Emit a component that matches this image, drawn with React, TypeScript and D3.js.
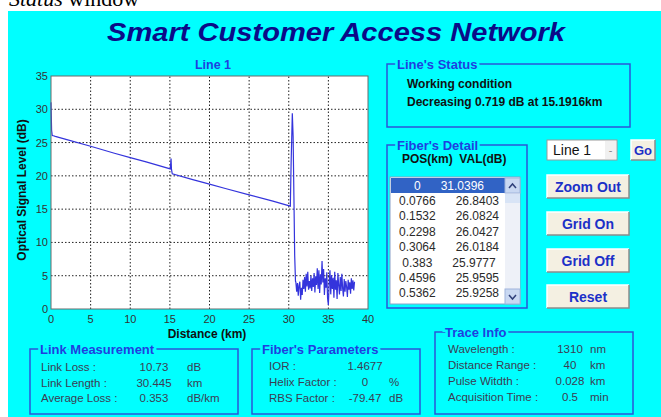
import React from 'react';
import * as d3 from 'd3';

// trace (km, dB)
const traceKm = [0, 0.0766, 0.1532, 0.2298, 0.3064, 0.383, 0.4596, 0.5362, 2, 5, 8, 10, 12, 15.05, 15.15, 15.2, 15.3, 18, 20, 22, 25, 28, 30.2, 30.3, 30.45, 30.55, 30.65, 30.75, 30.85];
const traceDb = [31.04, 26.84, 26.08, 26.04, 26.02, 25.98, 25.96, 25.93, 25.45, 24.45, 23.4, 22.75, 22.1, 21.05, 22.6, 21.0, 20.3, 19.4, 18.75, 18.1, 17.15, 16.2, 15.45, 22.0, 29.4, 26.0, 17.0, 8.0, 4.2];

// noise floor after the end of the fibre
const noiseStartKm = 30.9;
const noiseStepKm = 0.1;
const noiseDb = [4.0, 2.6, 3.9, 2.0, 3.5, 4.1, 1.4, 3.2, 2.1, 4.4, 3.0, 4.8, 2.6, 5.3, 3.4, 5.6, 2.9, 4.2, 3.1, 5.0,
  2.7, 4.6, 3.3, 5.4, 2.5, 4.9, 3.6, 6.1, 3.0, 5.8, 2.4, 5.2, 3.7, 7.2, 4.0, 6.0, 2.1, 4.6, 3.2, 5.5,
  1.6, 0.6, 3.8, 5.8, 2.2, 5.1, 3.0, 4.7, 1.7, 5.6, 2.9, 4.3, 1.5, 5.4, 3.6, 2.2, 4.8, 2.7, 5.3, 3.1,
  1.9, 4.5, 2.6, 4.2, 3.3, 1.8, 4.4, 2.9, 4.0, 2.3, 4.6, 3.0, 4.3, 2.8, 4.1];

const xTicks = [0, 5, 10, 15, 20, 25, 30, 35, 40];
const yTicks = [0, 5, 10, 15, 20, 25, 30, 35];

const detailPos = ['0', '0.0766', '0.1532', '0.2298', '0.3064', '0.383', '0.4596', '0.5362', '0.6128'];
const detailVal = ['31.0396', '26.8403', '26.0824', '26.0427', '26.0184', '25.9777', '25.9595', '25.9258', '25.8951'];

const buttonLabels = ['Zoom Out', 'Grid On', 'Grid Off', 'Reset'];

const linkLabels = ['Link Loss :', 'Link Length :', 'Average Loss :'];
const linkValues = ['10.73', '30.445', '0.353'];
const linkUnits = ['dB', 'km', 'dB/km'];

const paramLabels = ['IOR :', 'Helix Factor :', 'RBS Factor :'];
const paramValues = ['1.4677', '0', '-79.47'];
const paramUnits = ['', '%', 'dB'];

const traceLabels = ['Wavelength :', 'Distance Range :', 'Pulse Witdth :', 'Acquisition Time :'];
const traceValues = ['1310', '40', '0.028', '0.5'];
const traceUnits = ['nm', 'km', 'km', 'min'];

const SANS = '"Liberation Sans", Arial, sans-serif';
const CYAN = '#00ffff';
const GROUP_BLUE = '#1f3fe0';
const LABEL_GREY = '#3c3c52';

function GroupBox({x, y, w, h, title}: {x: number, y: number, w: number, h: number, title: string}) {
  return (
    <g>
      <rect x={x} y={y} width={w} height={h} fill="none" stroke="#2b55d8" strokeWidth={1.5} />
      <text x={x + 10} y={y + 4.5} fontFamily={SANS} fontSize={13} fontWeight="bold" fill={GROUP_BLUE}
        stroke={CYAN} strokeWidth={5} paintOrder="stroke">{title}</text>
    </g>
  );
}

function Button({x, y, w, h, label, size = 14}: {x: number, y: number, w: number, h: number, label: string, size?: number}) {
  return (
    <g>
      <rect x={x} y={y} width={w} height={h} fill="#f4f0e2" />
      <path d={`M${x},${y + h} V${y} H${x + w}`} fill="none" stroke="#ffffff" strokeWidth={1.5} />
      <path d={`M${x},${y + h} H${x + w} V${y}`} fill="none" stroke="#8c8c8c" strokeWidth={1.5} />
      <text x={x + w / 2} y={y + h / 2 + size * 0.36} textAnchor="middle" fontFamily={SANS}
        fontSize={size} fontWeight="bold" fill="#1c30c8">{label}</text>
    </g>
  );
}

export default function App() {
  const x = d3.scaleLinear().domain([0, 40]).range([51, 368]);
  const y = d3.scaleLinear().domain([0, 35]).range([309, 76]);

  const points: [number, number][] = traceKm.map((k, i) => [k, traceDb[i]]);
  noiseDb.forEach((v, i) => points.push([noiseStartKm + i * noiseStepKm, v]));
  const line = d3.line<[number, number]>().x(d => x(d[0])).y(d => y(d[1]));

  const rowY = d3.scaleLinear().domain([0, 1]).range([185, 200.4]);
  const buttonTops = [175, 212, 249, 285];

  return (
    <div style={{position: 'absolute', left: 0, top: 0}}>
      <svg width={661} height={417} style={{display: 'block'}}>
        <rect width={661} height={417} fill="#ffffff" />
        <text x={9} y={6} fontFamily='"Liberation Serif", serif' fontSize={22} fill="#000">
          <tspan fontStyle="italic">Status</tspan> window
        </text>
        <rect x={8} y={11} width={653} height={406} fill={CYAN} />

        <text x={336} y={41} textAnchor="middle" fontFamily={SANS} fontSize={25} fontWeight="bold"
          fontStyle="italic" fill="#0b0b88" textLength={458} lengthAdjust="spacingAndGlyphs">
          Smart Customer Access Network
        </text>

        {/* plot */}
        <text x={213} y={69} textAnchor="middle" fontFamily={SANS} fontSize={12.5} fontWeight="bold" fill={GROUP_BLUE}>Line 1</text>
        <rect x={x(0)} y={y(35)} width={x(40) - x(0)} height={y(0) - y(35)} fill="#ffffff" />
        {xTicks.slice(1, -1).map(t => (
          <line key={'gx' + t} x1={x(t)} x2={x(t)} y1={y(0)} y2={y(35)} stroke="#222" strokeWidth={1} strokeDasharray="1.5 2" />
        ))}
        {yTicks.slice(1, -1).map(t => (
          <line key={'gy' + t} x1={x(0)} x2={x(40)} y1={y(t)} y2={y(t)} stroke="#222" strokeWidth={1} strokeDasharray="1.5 2" />
        ))}
        <path d={line(points) || ''} fill="none" stroke="#3434dc" strokeWidth={1.2} />
        <rect x={x(0)} y={y(35)} width={x(40) - x(0)} height={y(0) - y(35)} fill="none" stroke="#6a6a6a" strokeWidth={1} />
        {yTicks.map(t => (
          <text key={'ty' + t} x={x(0) - 3} y={y(t) + 4} textAnchor="end" fontFamily={SANS} fontSize={11} fill="#333">{t}</text>
        ))}
        {xTicks.map(t => (
          <text key={'tx' + t} x={x(t)} y={y(0) + 14} textAnchor="middle" fontFamily={SANS} fontSize={11} fill="#333">{t}</text>
        ))}
        <text x={207} y={338} textAnchor="middle" fontFamily={SANS} fontSize={12} fontWeight="bold" fill="#111">Distance (km)</text>
        <text transform="translate(26,190) rotate(-90)" textAnchor="middle" fontFamily={SANS} fontSize={12} fontWeight="bold" fill="#111">Optical Signal Level (dB)</text>

        {/* line status */}
        <GroupBox x={387} y={64} w={243} h={63} title="Line's Status" />
        <text x={407} y={88} fontFamily={SANS} fontSize={12} fontWeight="bold" fill="#111">Working condition</text>
        <text x={407} y={106} fontFamily={SANS} fontSize={12} fontWeight="bold" fill="#111">Decreasing 0.719 dB at 15.1916km</text>

        {/* fibre detail list */}
        <GroupBox x={387} y={145} w={140} h={163} title="Fiber's Detail" />
        <text x={402} y={163} fontFamily={SANS} fontSize={12} fontWeight="bold" fill="#111" xmlSpace="preserve">POS(km)  VAL(dB)</text>
        <defs>
          <clipPath id="listClip"><rect x={390} y={177} width={130} height={127} /></clipPath>
        </defs>
        <rect x={390} y={177} width={130} height={127} fill="#ffffff" stroke="#8aa0c8" strokeWidth={1} />
        <g clipPath="url(#listClip)">
          <rect x={391} y={178} width={114} height={15} fill="#3163c5" />
          {detailPos.map((p, i) => (
            <text key={'row' + i} x={449} y={rowY(i) + 4.5} textAnchor="middle" fontFamily={SANS} fontSize={12}
              fill={i === 0 ? '#ffffff' : '#2a2a2a'}>
              {p + '\u00a0\u00a0\u00a0\u00a0\u00a0\u00a0' + detailVal[i]}
            </text>
          ))}
        </g>
        <rect x={505} y={178} width={15} height={126} fill="#eef1f8" />
        <rect x={505} y={178} width={15} height={15} fill="#c9d8f2" stroke="#9fb4dc" />
        <path d="M509,188 L512.5,184 L516,188" fill="none" stroke="#30407a" strokeWidth={1.5} />
        <rect x={505} y={194} width={15} height={9} fill="#d8e4f6" />
        <rect x={505} y={289} width={15} height={15} fill="#c9d8f2" stroke="#9fb4dc" />
        <path d="M509,295 L512.5,299 L516,295" fill="none" stroke="#30407a" strokeWidth={1.5} />

        {/* line selector */}
        <rect x={547} y={140} width={70} height={20} fill="#ffffff" stroke="#9a9a9a" />
        <text x={553} y={155} fontFamily={SANS} fontSize={14} fill="#111">Line 1</text>
        <rect x={605} y={141} width={11} height={18} fill="#f0f0f0" />
        <text x={610.5} y={154} textAnchor="middle" fontFamily={SANS} fontSize={11} fill="#888">-</text>
        <Button x={631} y={140} w={24} h={20} label="Go" size={13} />

        {buttonLabels.map((b, i) => (
          <Button key={b} x={547} y={buttonTops[i]} w={82} h={23} label={b} />
        ))}

        {/* link measurement */}
        <GroupBox x={30} y={349} w={208} h={65} title="Link Measurement" />
        {linkLabels.map((l, i) => (
          <g key={l} fontFamily={SANS} fontSize={11.5} fill={LABEL_GREY}>
            <text x={41} y={371 + i * 15.5}>{l}</text>
            <text x={154} y={371 + i * 15.5} textAnchor="middle">{linkValues[i]}</text>
            <text x={187} y={371 + i * 15.5}>{linkUnits[i]}</text>
          </g>
        ))}

        {/* fibre parameters */}
        <GroupBox x={252} y={349} w={168} h={65} title="Fiber's Parameters" />
        {paramLabels.map((l, i) => (
          <g key={l} fontFamily={SANS} fontSize={11.5} fill={LABEL_GREY}>
            <text x={269} y={370 + i * 16}>{l}</text>
            <text x={365} y={370 + i * 16} textAnchor="middle">{paramValues[i]}</text>
            <text x={389} y={370 + i * 16}>{paramUnits[i]}</text>
          </g>
        ))}

        {/* trace info */}
        <GroupBox x={435} y={332} w={198} h={82} title="Trace Info" />
        {traceLabels.map((l, i) => (
          <g key={l} fontFamily={SANS} fontSize={11.5} fill={LABEL_GREY}>
            <text x={448} y={353 + i * 16}>{l}</text>
            <text x={570} y={353 + i * 16} textAnchor="middle">{traceValues[i]}</text>
            <text x={590} y={353 + i * 16}>{traceUnits[i]}</text>
          </g>
        ))}
      </svg>
    </div>
  );
}
